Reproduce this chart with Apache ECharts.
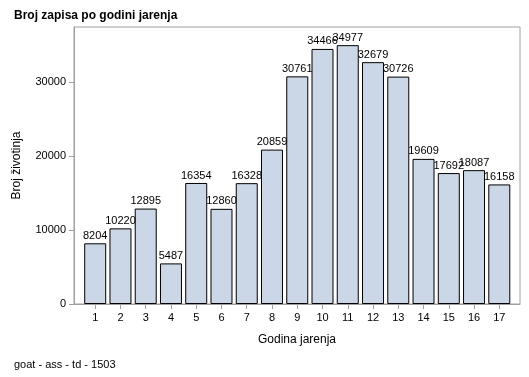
<!DOCTYPE html>
<html>
<head>
<meta charset="utf-8">
<script src="https://cdn.jsdelivr.net/npm/echarts@6/dist/echarts.min.js"></script>
<style>
html, body { margin: 0; padding: 0; background: #fff; }
#main { width: 529px; height: 377px; }
</style>
</head>
<body>
<div id="main"></div>
<script>
// godine jarenja i broj zapisa
var godine = [1, 2, 3, 4, 5, 6, 7, 8, 9, 10, 11, 12, 13, 14, 15, 16, 17];
var brojZapisa = [8204, 10220, 12895, 5487, 16354, 12860, 16328, 20859, 30761,
    34466, 34977, 32679, 30726, 19609, 17692, 18087, 16158];
var yTicks = [0, 10000, 20000, 30000];

var fontFam = 'Arial, "Liberation Sans", sans-serif';

var seriesData = [];
for (var i = 0; i < godine.length; i++) {
    seriesData.push([godine[i], brojZapisa[i]]);
}

var myChart = echarts.init(document.getElementById('main'));
var option = {
    animation: false,
    title: [
        {
            text: 'Broj zapisa po godini jarenja',
            left: 9, top: 5,
            textStyle: { fontSize: 12, fontWeight: 'bold', color: '#000', fontFamily: fontFam }
        },
        {
            text: 'goat - ass - td - 1503',
            left: 9, top: 354,
            textStyle: { fontSize: 11, fontWeight: 'normal', color: '#000', fontFamily: fontFam }
        }
    ],
    grid: {
        left: 74, top: 27, right: 9, bottom: 73,
        show: true,
        borderColor: '#a0a0a0',
        borderWidth: 1
    },
    xAxis: {
        type: 'value',
        min: 0.16,
        max: 17.82,
        name: 'Godina jarenja',
        nameLocation: 'middle',
        nameGap: 30,
        nameTextStyle: { fontSize: 12, color: '#000', fontFamily: fontFam },
        axisLine: { show: true, lineStyle: { color: '#a0a0a0' } },
        axisTick: { show: true, length: 5, customValues: godine, lineStyle: { color: '#a0a0a0' } },
        axisLabel: { customValues: godine, fontSize: 11, color: '#000', margin: 8, fontFamily: fontFam },
        splitLine: { show: false }
    },
    yAxis: {
        type: 'value',
        min: 0,
        max: 37430,
        name: 'Broj životinja',
        nameLocation: 'middle',
        nameGap: 51,
        nameTextStyle: { fontSize: 12, color: '#000', fontFamily: fontFam },
        axisLine: { show: true, lineStyle: { color: '#a0a0a0' } },
        axisTick: { show: true, length: 5, customValues: yTicks, lineStyle: { color: '#a0a0a0' } },
        axisLabel: {
            customValues: yTicks, fontSize: 11, color: '#000', margin: 8, fontFamily: fontFam,
            formatter: function (v) { return String(v); }
        },
        splitLine: { show: false }
    },
    series: [
        {
            type: 'bar',
            data: seriesData,
            barWidth: 22,
            itemStyle: { color: '#cbd6e6', borderColor: '#000', borderWidth: 1 },
            label: {
                show: true,
                position: 'top',
                distance: 2,
                fontSize: 11,
                color: '#000',
                fontFamily: fontFam,
                formatter: function (p) { return p.value[1]; }
            }
        }
    ]
};
myChart.setOption(option);
</script>
</body>
</html>
